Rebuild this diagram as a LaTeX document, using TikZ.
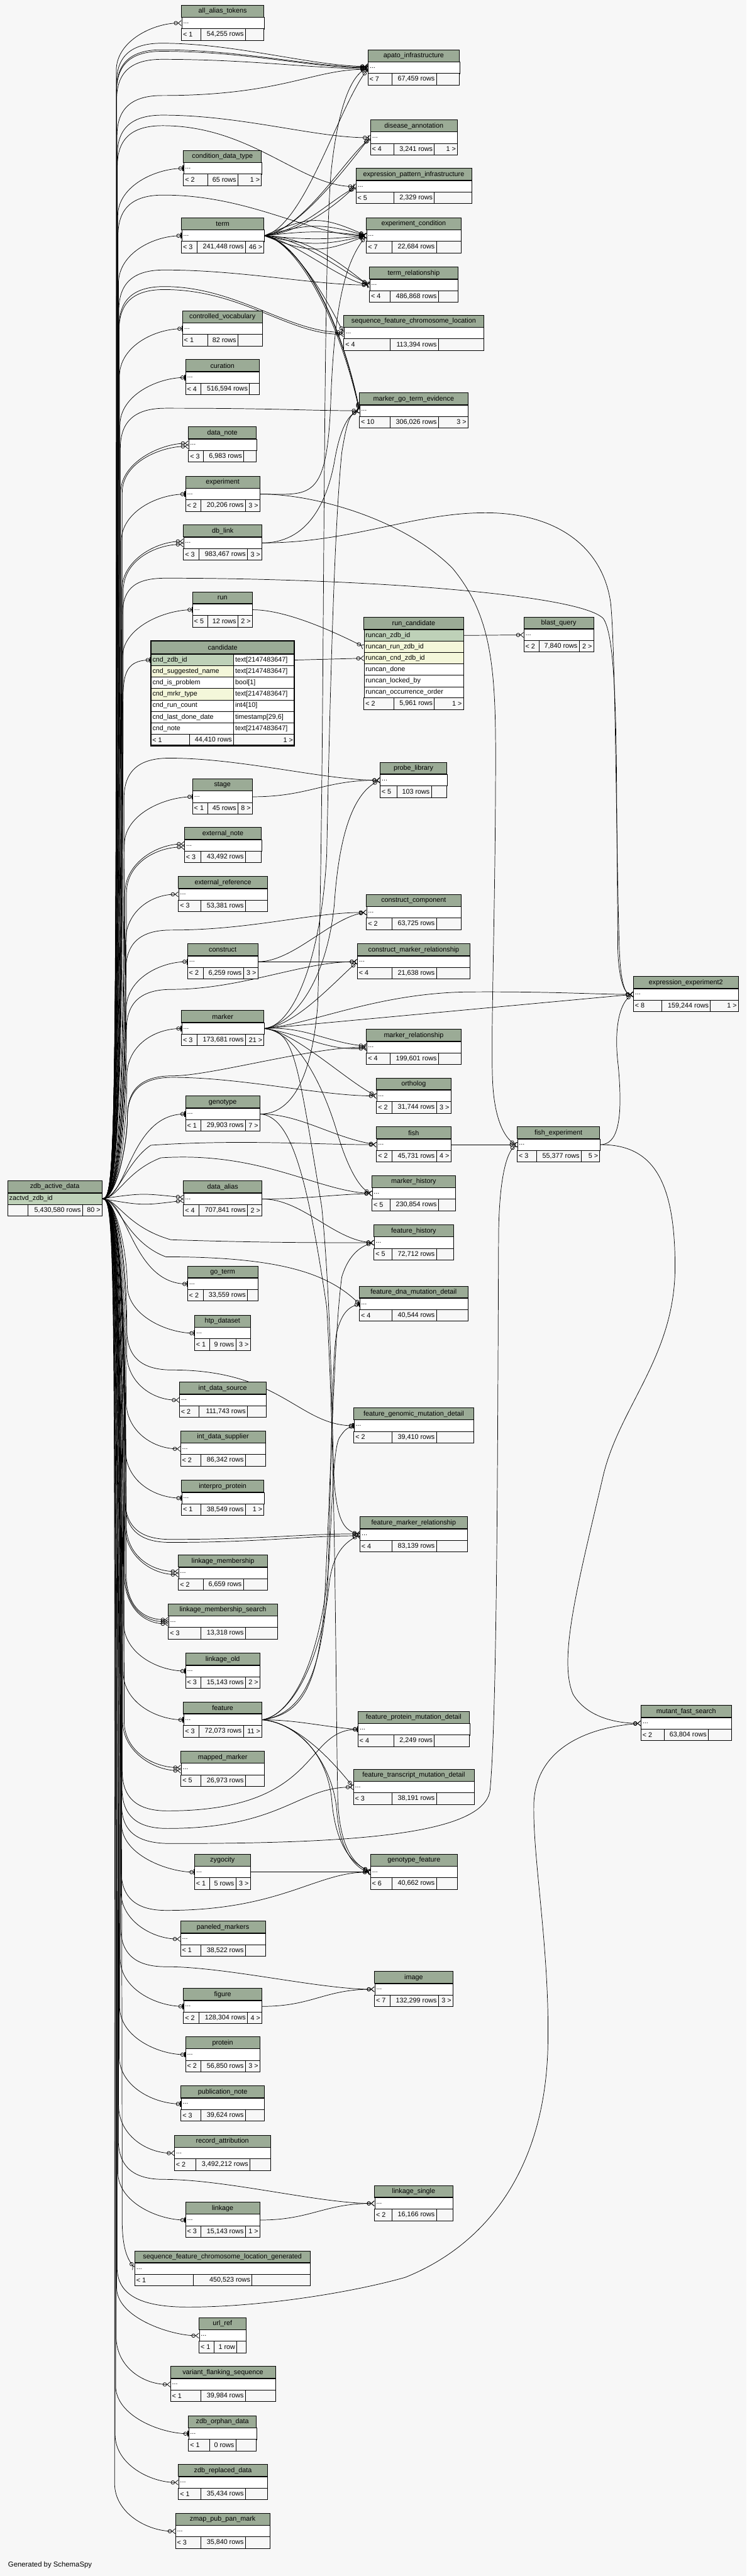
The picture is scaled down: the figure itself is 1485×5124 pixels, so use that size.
\documentclass[tikz,border=0pt]{standalone}
\usepackage{fontspec}
\setmainfont{Liberation Sans}
\usetikzlibrary{arrows.meta}
\definecolor{hdgreen}{HTML}{9BAB96}
\definecolor{keygreen}{HTML}{BED1B8}
\definecolor{idxyellow}{HTML}{F4F7DA}
\definecolor{pagebg}{HTML}{F7F7F7}
\pgfdeclarelayer{back}
\pgfdeclarelayer{wires}
\pgfsetlayers{back,wires,main}
\begin{document}
\begin{tikzpicture}[x=1pt, y=-1pt,
  every node/.style={font=\fontsize{13.5}{16}\selectfont, inner sep=0pt},
  cell/.style={draw, line width=0.8pt},
  bodyrow/.style={draw, line width=0.8pt, fill=white, anchor=north west, minimum height=23pt, inner xsep=3pt, inner ysep=0pt, align=left},
  edge/.style={line width=0.9pt},
  crowodot/.style={-{Circle[open,length=8pt,width=8pt,line width=0.9pt]Straight Barb[reversed,length=6pt,width=10pt,line width=0.9pt]}},
  teeodot/.style={-{Circle[open,length=8pt,width=8pt,line width=0.9pt]Bar[width=11pt,line width=2pt]}}]
  \begin{pgfonlayer}{back}
    \fill[pagebg] (0,0) rectangle (1485,5124);
  \end{pgfonlayer}
  \useasboundingbox (0,0) rectangle (1485,5124);

  % tables with a collapsed body row
  \foreach \nm/\lx/\rx/\ty/\ca/\cb/\fa/\fb/\fc in {
    all_alias_tokens/361/525/10/400/488/{< 1}/{54,255 rows}/{},
    apato_infrastructure/732/914/99/780/868/{< 7}/{67,459 rows}/{},
    disease_annotation/737/910/238/784/864/{< 4}/{3,241 rows}/{1 >},
    condition_data_type/365/520/299/413/473/{< 2}/{65 rows}/{1 >},
    expression_pattern_infrastructure/708/938/335/784/864/{< 5}/{2,329 rows}/{},
    term/361/525/433/392/488/{< 3}/{241,448 rows}/{46 >},
    experiment_condition/729/917/433/780/868/{< 7}/{22,684 rows}/{},
    term_relationship/735/911/531/776/872/{< 4}/{486,868 rows}/{},
    controlled_vocabulary/363/522/618/413/473/{< 1}/{82 rows}/{},
    sequence_feature_chromosome_location/684/962/627/776/872/{< 4}/{113,394 rows}/{},
    curation/369/516/715/400/496/{< 4}/{516,594 rows}/{},
    marker_go_term_evidence/715/931/781/776/872/{< 10}/{306,026 rows}/{3 >},
    data_note/375/510/849/405/485/{< 3}/{6,983 rows}/{},
    experiment/369/517/947/400/488/{< 2}/{20,206 rows}/{3 >},
    db_link/365/521/1044/396/492/{< 3}/{983,467 rows}/{3 >},
    run/383/502/1177/413/473/{< 5}/{12 rows}/{2 >},
    blast_query/1042/1181/1227/1072/1152/{< 2}/{7,840 rows}/{2 >},
    probe_library/756/889/1516/790/858/{< 5}/{103 rows}/{},
    stage/383/502/1549/413/473/{< 1}/{45 rows}/{8 >},
    external_note/367/520/1646/400/488/{< 3}/{43,492 rows}/{},
    external_reference/355/532/1743/400/488/{< 3}/{53,381 rows}/{},
    construct_component/729/917/1779/780/868/{< 2}/{63,725 rows}/{},
    construct/373/513/1877/404/484/{< 2}/{6,259 rows}/{3 >},
    construct_marker_relationship/711/935/1877/780/868/{< 4}/{21,638 rows}/{},
    expression_experiment2/1260/1469/1942/1317/1413/{< 8}/{159,244 rows}/{1 >},
    marker/361/525/2010/392/488/{< 3}/{173,681 rows}/{21 >},
    marker_relationship/729/917/2047/776/872/{< 4}/{199,601 rows}/{},
    ortholog/749/897/2144/780/868/{< 2}/{31,744 rows}/{3 >},
    genotype/369/517/2180/400/488/{< 1}/{29,903 rows}/{7 >},
    fish/749/897/2241/780/868/{< 2}/{45,731 rows}/{4 >},
    fish_experiment/1029/1193/2241/1068/1156/{< 3}/{55,377 rows}/{5 >},
    marker_history/740/906/2338/776/872/{< 5}/{230,854 rows}/{},
    data_alias/365/521/2349/396/492/{< 4}/{707,841 rows}/{2 >},
    feature_history/744/902/2436/780/868/{< 5}/{72,712 rows}/{},
    go_term/373/513/2518/404/492/{< 2}/{33,559 rows}/{},
    feature_dna_mutation_detail/715/931/2558/780/868/{< 4}/{40,544 rows}/{},
    htp_dataset/387/498/2616/417/469/{< 1}/{9 rows}/{3 >},
    int_data_source/357/529/2749/396/492/{< 2}/{111,743 rows}/{},
    feature_genomic_mutation_detail/704/942/2800/780/868/{< 2}/{39,410 rows}/{},
    int_data_supplier/359/528/2846/400/488/{< 2}/{86,342 rows}/{},
    interpro_protein/361/525/2944/400/488/{< 1}/{38,549 rows}/{1 >},
    feature_marker_relationship/716/930/3017/780/868/{< 4}/{83,139 rows}/{},
    linkage_membership/355/532/3093/404/484/{< 2}/{6,659 rows}/{},
    linkage_membership_search/335/552/3190/400/488/{< 3}/{13,318 rows}/{},
    linkage_old/369/517/3288/400/488/{< 3}/{15,143 rows}/{2 >},
    feature/365/521/3385/396/484/{< 3}/{72,073 rows}/{11 >},
    mutant_fast_search/1275/1455/3392/1321/1409/{< 2}/{63,804 rows}/{},
    feature_protein_mutation_detail/712/934/3404/784/864/{< 4}/{2,249 rows}/{},
    mapped_marker/360/526/3483/400/488/{< 5}/{26,973 rows}/{},
    feature_transcript_mutation_detail/703/943/3519/780/868/{< 3}/{38,191 rows}/{},
    zygocity/387/498/3688/417/469/{< 1}/{5 rows}/{3 >},
    genotype_feature/737/910/3688/780/868/{< 6}/{40,662 rows}/{},
    paneled_markers/359/528/3821/400/488/{< 1}/{38,522 rows}/{},
    image/745/901/3921/776/872/{< 7}/{132,299 rows}/{3 >},
    figure/365/521/3955/396/492/{< 2}/{128,304 rows}/{4 >},
    protein/369/517/4051/400/488/{< 2}/{56,850 rows}/{3 >},
    publication_note/360/526/4149/400/488/{< 3}/{39,624 rows}/{},
    record_attribution/347/538/4247/389/497/{< 2}/{3,492,212 rows}/{},
    linkage_single/745/901/4347/780/868/{< 2}/{16,166 rows}/{},
    linkage/369/517/4380/400/488/{< 3}/{15,143 rows}/{1 >},
    sequence_feature_chromosome_location_generated/268/617/4477/385/501/{< 1}/{450,523 rows}/{},
    url_ref/396/489/4610/426/471/{< 1}/{1 row}/{},
    variant_flanking_sequence/339/548/4707/400/488/{< 1}/{39,984 rows}/{},
    zdb_orphan_data/375/510/4805/417/469/{< 1}/{0 rows}/{},
    zdb_replaced_data/355/532/4902/400/488/{< 1}/{35,434 rows}/{},
    zmap_pub_pan_mark/349/537/4999/400/488/{< 3}/{35,840 rows}/{}} {
    \pgfmathsetmacro\tw{\rx-\lx-6}
    \filldraw[cell, fill=hdgreen] (\lx,\ty) rectangle (\rx,{\ty+24});
    \node (\nm-hd) at ({(\lx+\rx)/2},{\ty+12.5}) {\expandafter\detokenize\expandafter{\nm}};
    \node[bodyrow, text width=\tw pt] (\nm) at (\lx,{\ty+24}) {...};
    \draw[line width=1.6pt] (\lx,{\ty+24}) -- (\rx,{\ty+24});
    \filldraw[cell, fill=pagebg] (\lx,{\ty+47}) rectangle (\rx,{\ty+70});
    \draw[cell] (\ca,{\ty+47}) -- (\ca,{\ty+70}) (\cb,{\ty+47}) -- (\cb,{\ty+70});
    \node[anchor=west] (\nm-fa) at ({\lx+3},{\ty+58.5}) {\fa};
    \node[anchor=east] (\nm-fb) at ({\cb-3},{\ty+58.5}) {\fb};
    \node[anchor=east] (\nm-fc) at ({\rx-3},{\ty+58.5}) {\fc};
  }

  % zdb_active_data
  \filldraw[cell, fill=hdgreen] (15,2348) rectangle (203,2372.5);
  \node (zdb_active_data-hd) at (109,2360.5) {zdb\_active\_data};
  \node[bodyrow, fill=keygreen, text width=182pt] (zactvd_zdb_id) at (15,2372.5) {zactvd\_zdb\_id};
  \draw[line width=1.6pt] (15,2372.5) -- (203,2372.5);
  \filldraw[cell, fill=pagebg] (15,2395.5) rectangle (203,2418.5);
  \draw[cell] (56,2395.5) -- (56,2418.5) (164,2395.5) -- (164,2418.5);
  \node[anchor=east] (zdb_active_data-fb) at (161,2407) {5,430,580 rows};
  \node[anchor=east] (zdb_active_data-fc) at (200,2407) {80 >};

  % candidate (the table in focus)
  \filldraw[cell, fill=hdgreen] (300,1275) rectangle (586,1301);
  \node (candidate-hd) at (443,1288) {candidate};
  \foreach \i/\cn/\ct/\cc in {0/cnd_zdb_id/{text[2147483647]}/keygreen,
    1/cnd_suggested_name/{text[2147483647]}/idxyellow, 2/cnd_is_problem/{bool[1]}/white,
    3/cnd_mrkr_type/{text[2147483647]}/idxyellow, 4/cnd_run_count/{int4[10]}/white,
    5/cnd_last_done_date/{timestamp[29,6]}/white, 6/cnd_note/{text[2147483647]}/white} {
    \node[bodyrow, fill=\cc, text width=158.5pt] (\cn) at (300,{1301+\i*22.7}) {\expandafter\detokenize\expandafter{\cn}};
    \node[bodyrow, text width=115.5pt] (\cn-type) at (464.5,{1301+\i*22.7}) {\ct};
  }
  \draw[line width=1.6pt] (300,1301) -- (586,1301);
  \filldraw[cell, fill=pagebg] (300,1460) rectangle (586,1483);
  \draw[cell] (377.3,1460) -- (377.3,1483) (464.5,1460) -- (464.5,1483);
  \node[anchor=west] (candidate-fa) at (303,1471.5) {< 1};
  \node[anchor=east] (candidate-fb) at (461.5,1471.5) {44,410 rows};
  \node[anchor=east] (candidate-fc) at (583,1471.5) {1 >};
  \draw[line width=2.6pt] (300,1275) rectangle (586,1483);

  % run_candidate
  \filldraw[cell, fill=hdgreen] (724,1228) rectangle (922,1252);
  \node (run_candidate-hd) at (823,1240.5) {run\_candidate};
  \foreach \i/\cn/\cc in {0/runcan_zdb_id/keygreen, 1/runcan_run_zdb_id/idxyellow,
    2/runcan_cnd_zdb_id/idxyellow, 3/runcan_done/white, 4/runcan_locked_by/white,
    5/runcan_occurrence_order/white} {
    \node[bodyrow, fill=\cc, text width=192pt] (\cn) at (724,{1252+\i*22.7}) {\expandafter\detokenize\expandafter{\cn}};
  }
  \draw[line width=1.6pt] (724,1252) -- (922,1252);
  \filldraw[cell, fill=pagebg] (724,1388.2) rectangle (922,1411);
  \draw[cell] (784,1388.2) -- (784,1411) (864,1388.2) -- (864,1411);
  \node[anchor=west] (run_candidate-fa) at (727,1399.6) {< 2};
  \node[anchor=east] (run_candidate-fb) at (861,1399.6) {5,961 rows};
  \node[anchor=east] (run_candidate-fc) at (919,1399.6) {1 >};

  \node[anchor=west, font=\fontsize{14.2}{17}\selectfont] (credit) at (16,5102) {Generated by SchemaSpy};

  \begin{pgfonlayer}{wires}
  % zdb_active_data to the tables of the first column
  \foreach \tb/\ty/\sg/\tip/\dx/\dy in {
    all_alias_tokens/45.5/1/crowodot/0/0, condition_data_type/334.5/1/teeodot/0/0,
    term/468.5/1/teeodot/0/0, controlled_vocabulary/653.5/1/teeodot/0/0,
    curation/750.5/1/teeodot/0/0, data_note/884.5/1/crowodot/0/3,
    data_note/884.5/1/crowodot/3/-3, experiment/982.5/1/teeodot/0/0,
    db_link/1079.5/1/crowodot/0/3, db_link/1079.5/1/crowodot/3/-3,
    run/1212.5/1/teeodot/0/0, cnd_zdb_id/1312.5/1/teeodot/0/0,
    stage/1584.5/1/teeodot/0/0, external_note/1681.5/1/crowodot/0/3,
    external_note/1681.5/1/crowodot/3/-3, external_reference/1778.5/1/crowodot/0/0,
    construct/1912.5/1/teeodot/0/0, marker/2045.5/1/teeodot/0/0,
    htp_dataset/2651.5/-1/teeodot/0/0, int_data_source/2784.5/-1/crowodot/0/0,
    int_data_supplier/2881.5/-1/crowodot/0/0, interpro_protein/2979.5/-1/teeodot/0/0,
    linkage_membership/3128.5/-1/crowodot/0/-3, linkage_membership/3128.5/-1/crowodot/3/3,
    linkage_membership_search/3225.5/-1/crowodot/0/-4, linkage_membership_search/3225.5/-1/crowodot/2/0,
    linkage_membership_search/3225.5/-1/crowodot/4/4, linkage_old/3323.5/-1/teeodot/0/0,
    feature/3420.5/-1/teeodot/0/0, mapped_marker/3518.5/-1/crowodot/0/-3,
    mapped_marker/3518.5/-1/crowodot/3/3, zygocity/3723.5/-1/teeodot/0/0,
    paneled_markers/3856.5/-1/crowodot/0/0, figure/3990.5/-1/teeodot/0/0,
    protein/4086.5/-1/teeodot/0/0, publication_note/4184.5/-1/teeodot/0/0,
    record_attribution/4282.5/-1/crowodot/0/0, linkage/4415.5/-1/teeodot/0/0,
    url_ref/4645.5/-1/crowodot/0/0, variant_flanking_sequence/4742.5/-1/crowodot/0/0,
    zdb_orphan_data/4840.5/-1/teeodot/0/0, zdb_replaced_data/4937.5/-1/crowodot/0/0,
    zmap_pub_pan_mark/5034.5/-1/crowodot/0/0} {
    \pgfmathsetmacro\xv{256-abs(\ty-2384)/2650*28+\dx}
    \draw[edge,\tip] (zactvd_zdb_id.east) .. controls +(28,0) and ({\xv},{2384-(\sg)*110}) .. ({\xv},{\ty+(\sg)*95})
      .. controls ({\xv},{\ty+(\sg)*35}) and +(-55,0) .. ([yshift=\dy pt]\tb.west);
  }
  \draw[edge,teeodot] (zactvd_zdb_id.east) .. controls +(50,0) and +(-110,0) .. (genotype.west);
  \draw[edge,teeodot] (zactvd_zdb_id.east) .. controls +(50,0) and +(-110,0) .. (go_term.west);
  \draw[edge,crowodot] (zactvd_zdb_id.east) .. controls +(80,-12) and +(-80,-8) .. ([yshift=3pt]data_alias.west);
  \draw[edge,crowodot] (zactvd_zdb_id.east) .. controls +(80,14) and +(-80,10) .. ([yshift=-3pt]data_alias.west);
  \draw[edge,crowodot] (zactvd_zdb_id.east) .. controls +(28,0) and (242,2494) .. (243,4420)
    .. controls (244,4480) and +(-12,-18) .. (sequence_feature_chromosome_location_generated.west);

  % zdb_active_data over to the second column, above
  \foreach \tb/\yp/\xp/\dy in {apato_infrastructure/86/470/3, apato_infrastructure/99/480/1.5,
    apato_infrastructure/102/490/0, apato_infrastructure/118/500/-1.5, apato_infrastructure/190/560/-3,
    disease_annotation/229/480/0, expression_pattern_infrastructure/250/500/0,
    experiment_condition/388/500/0, term_relationship/537/480/0,
    sequence_feature_chromosome_location/570/470/2, sequence_feature_chromosome_location/576/480/-2,
    marker_go_term_evidence/812/560/0, probe_library/1508/480/0,
    construct_component/1850/500/0, construct_marker_relationship/1968/480/0,
    ortholog/2143/480/0, marker_relationship/2140/420/0} {
    \pgfmathsetmacro\xv{256-abs(\yp-2384)/2650*28}
    \draw[edge,crowodot] (zactvd_zdb_id.east) .. controls +(28,0) and ({\xv},2274) .. ({\xv},{\yp+80})
      .. controls ({\xv},{\yp+25}) and ({\xv+30},\yp) .. ({\xv+90},\yp)
      .. controls (\xp,\yp) and +(-110,0) .. ([yshift=\dy pt]\tb.west);
  }
  % zdb_active_data over to the second column, below
  \foreach \tb/\yp/\xp/\dy/\tip in {feature_genomic_mutation_detail/2725/560/0/teeodot,
    feature_marker_relationship/3062/520/2/crowodot, feature_marker_relationship/3068/520/-2/crowodot,
    feature_protein_mutation_detail/3602/640/0/teeodot, feature_transcript_mutation_detail/3637/560/0/crowodot,
    genotype_feature/3800/560/0/crowodot, image/3912/450/0/crowodot, linkage_single/4335/450/0/crowodot} {
    \pgfmathsetmacro\xv{256-abs(\yp-2384)/2650*28}
    \draw[edge,\tip] (zactvd_zdb_id.east) .. controls +(28,0) and ({\xv},2494) .. ({\xv},{\yp-80})
      .. controls ({\xv},{\yp-25}) and ({\xv+30},\yp) .. ({\xv+90},\yp)
      .. controls (\xp,\yp) and +(-110,0) .. ([yshift=\dy pt]\tb.west);
  }
  \draw[edge,crowodot] (zactvd_zdb_id.east) .. controls +(30,0) and (252,2310) .. (300,2278)
    .. controls (480,2266) and +(-120,0) .. (fish.west);
  \draw[edge,crowodot] (zactvd_zdb_id.east) .. controls +(30,0) and (250,2330) .. (320,2303)
    .. controls (520,2290) and +(-110,-5) .. (marker_history.west);
  \draw[edge,crowodot] (zactvd_zdb_id.east) .. controls +(30,0) and (250,2440) .. (340,2466)
    .. controls (520,2472) and +(-110,0) .. (feature_history.west);
  \draw[edge,teeodot] (zactvd_zdb_id.east) .. controls +(30,0) and (250,2470) .. (330,2500)
    .. controls (560,2500) and +(-60,-60) .. (feature_dna_mutation_detail.west);
  \draw[edge,crowodot] (zactvd_zdb_id.east) .. controls +(28,0) and (243,2274) .. (243,1230)
    .. controls (243,1175) and (262,1150) .. (330,1150) .. controls (700,1150) and (1150,1180) .. (1200,1230)
    .. controls (1222,1260) and (1226,1400) .. (1227,1600) .. controls (1228,1750) and (1229,1820) .. (1229,1880)
    .. controls (1230,1955) and +(-15,0) .. (expression_experiment2.west);
  \draw[edge,crowodot] (zactvd_zdb_id.east) .. controls +(28,0) and (242,2494) .. (242,3590)
    .. controls (242,3645) and (275,3667) .. (340,3667) .. controls (700,3667) and (965,3650) .. (975,3560)
    .. controls (990,3400) and (990,2800) .. (992,2450) .. controls (994,2320) and +(-15,10) .. (fish_experiment.west);
  \draw[edge,crowodot] (zactvd_zdb_id.east) .. controls +(28,0) and (233,2494) .. (233,4510)
    .. controls (233,4565) and (280,4589) .. (374,4589) .. controls (520,4589) and (700,4560) .. (806,4530)
    .. controls (980,4460) and (1085,4300) .. (1090,4070) .. controls (1094,3880) and (1060,3700) .. (1062,3590)
    .. controls (1064,3480) and +(-110,8) .. (mutant_fast_search.west);

  % term
  \foreach \tb/\ax/\ay/\bx/\by/\dy in {apato_infrastructure/80/-20/-60/80/-2,
    disease_annotation/70/-10/-40/50/2, disease_annotation/80/-15/-50/40/-1,
    expression_pattern_infrastructure/70/-5/-40/40/2, expression_pattern_infrastructure/75/-10/-55/30/-1,
    experiment_condition/90/-40/-90/-40/0, experiment_condition/90/-25/-90/-25/0,
    experiment_condition/90/-10/-90/-10/0, experiment_condition/90/8/-90/8/0,
    experiment_condition/90/20/-90/20/0, experiment_condition/90/35/-90/35/0,
    term_relationship/80/5/-50/-20/2, term_relationship/60/10/-60/-10/0, term_relationship/90/0/-40/-30/-2,
    sequence_feature_chromosome_location/60/10/-30/-60/0,
    marker_go_term_evidence/60/5/-40/-200/2, marker_go_term_evidence/50/5/-50/-220/0,
    marker_go_term_evidence/70/10/-35/-180/-2} {
    \draw[edge,crowodot] (term.east) .. controls +(\ax,\ay) and +(\bx,\by) .. ([yshift=\dy pt]\tb.west);
  }

  % experiment, db_link, run, candidate, stage
  \draw[edge,crowodot] (experiment.east) .. controls +(100,0) and (650,1000) .. (658,800)
    .. controls (665,600) and +(-40,50) .. (experiment_condition.west);
  \draw[edge,crowodot] (experiment.east) .. controls (620,982) and (800,1030) .. (900,1130)
    .. controls (975,1220) and (986,1320) .. (986,1500) .. controls (986,1800) and (976,2050) .. (980,2150)
    .. controls (984,2240) and +(-18,-8) .. (fish_experiment.west);
  \draw[edge,crowodot] (db_link.east) .. controls +(90,0) and (650,1000) .. (665,920)
    .. controls (675,860) and +(-25,10) .. (marker_go_term_evidence.west);
  \draw[edge,crowodot] (db_link.east) .. controls (700,1080) and (820,1020) .. (966,1020)
    .. controls (1110,1020) and (1200,1090) .. (1215,1200) .. controls (1225,1300) and (1226,1700) .. (1232,1880)
    .. controls (1234,1960) and +(-15,0) .. (expression_experiment2.west);
  \draw[edge,crowodot] (run.east) .. controls +(70,0) and +(-50,-25) .. (runcan_run_zdb_id.west);
  \draw[edge,crowodot] (cnd_zdb_id-type.east) -- (runcan_cnd_zdb_id.west);
  \draw[edge,crowodot] (runcan_zdb_id.east) -- (blast_query.west);
  \draw[edge,crowodot] (stage.east) .. controls +(110,0) and +(-110,0) .. (probe_library.west);

  % construct, marker
  \draw[edge,crowodot] (construct.east) .. controls +(70,0) and +(-70,10) .. (construct_component.west);
  \draw[edge,crowodot] (construct.east) -- (construct_marker_relationship.west);
  \draw[edge,crowodot] (marker.east) .. controls +(60,-5) and +(-50,45) .. (construct_marker_relationship.west);
  \draw[edge,crowodot] (marker.east) .. controls +(80,-5) and +(-80,-8) .. ([yshift=2pt]marker_relationship.west);
  \draw[edge,crowodot] (marker.east) .. controls +(80,12) and +(-80,6) .. ([yshift=-2pt]marker_relationship.west);
  \draw[edge,crowodot] (marker.east) .. controls +(60,5) and +(-60,-30) .. (ortholog.west);
  \draw[edge,crowodot] (marker.east) .. controls +(60,5) and (640,2150) .. (670,2250)
    .. controls (690,2320) and +(-25,-10) .. (marker_history.west);
  \draw[edge,crowodot] (marker.east) .. controls +(100,-10) and (750,1975) .. (934,1973)
    .. controls (1100,1972) and +(-80,0) .. (expression_experiment2.west);
  \draw[edge,crowodot] (marker.east) -- (expression_experiment2.west);
  \draw[edge,crowodot] (marker.east) .. controls +(60,-10) and (650,1950) .. (665,1800)
    .. controls (675,1650) and +(-50,25) .. (probe_library.west);
  \draw[edge,crowodot] (marker.east) .. controls +(60,-5) and (640,1900) .. (650,1700)
    .. controls (660,1200) and (670,1000) .. (680,900) .. controls (690,840) and +(-20,8) .. (marker_go_term_evidence.west);
  \draw[edge,crowodot] (marker.east) .. controls +(60,5) and (590,2100) .. (640,2400)
    .. controls (660,2600) and (660,2850) .. (665,2950) .. controls (672,3030) and +(-30,-10) .. (feature_marker_relationship.west);

  % genotype, fish, fish_experiment, data_alias
  \draw[edge,crowodot] (genotype.east) .. controls +(60,0) and (620,2150) .. (632,2000)
    .. controls (648,1500) and (640,500) .. (660,330) .. controls (675,200) and +(-30,15) .. (apato_infrastructure.west);
  \draw[edge,crowodot] (genotype.east) .. controls +(80,0) and +(-90,-15) .. (fish.west);
  \draw[edge,crowodot] (genotype.east) .. controls +(60,5) and (610,2330) .. (650,2600)
    .. controls (668,2900) and (668,3400) .. (672,3580) .. controls (676,3680) and +(-30,-15) .. (genotype_feature.west);
  \draw[edge,crowodot] (fish.east) -- (fish_experiment.west);
  \draw[edge,crowodot] (fish_experiment.east) .. controls +(35,0) and (1240,2230) .. (1230,2120)
    .. controls (1220,2040) and +(-25,15) .. (expression_experiment2.west);
  \draw[edge,crowodot] (fish_experiment.east) .. controls (1300,2276) and (1343,2350) .. (1343,2520)
    .. controls (1343,2700) and (1230,2800) .. (1199,2940) .. controls (1150,3150) and (1110,3300) .. (1140,3370)
    .. controls (1170,3420) and +(-40,0) .. (mutant_fast_search.west);
  \draw[edge,crowodot] (data_alias.east) .. controls +(90,0) and +(-90,3) .. (marker_history.west);
  \draw[edge,crowodot] (data_alias.east) .. controls +(80,0) and +(-80,-5) .. (feature_history.west);

  % feature
  \draw[edge,crowodot] (feature.east) .. controls +(70,-10) and (630,3370) .. (645,3200)
    .. controls (660,2900) and (665,2650) .. (680,2540) .. controls (695,2490) and +(-20,5) .. (feature_history.west);
  \draw[edge,teeodot] (feature.east) .. controls +(70,-10) and (640,3350) .. (652,3150)
    .. controls (660,2900) and (660,2700) .. (670,2650) .. controls (680,2610) and +(-20,5) .. (feature_dna_mutation_detail.west);
  \draw[edge,teeodot] (feature.east) .. controls +(60,-10) and (640,3300) .. (655,3100)
    .. controls (662,2950) and (665,2880) .. (675,2860) .. controls (685,2845) and +(-15,5) .. (feature_genomic_mutation_detail.west);
  \draw[edge,crowodot] (feature.east) .. controls +(60,-10) and (640,3300) .. (655,3150)
    .. controls (662,3090) and +(-30,15) .. (feature_marker_relationship.west);
  \draw[edge,teeodot] (feature.east) .. controls +(70,0) and +(-70,-5) .. (feature_protein_mutation_detail.west);
  \draw[edge,crowodot] (feature.east) .. controls +(70,5) and +(-40,-50) .. (feature_transcript_mutation_detail.west);
  \draw[edge,crowodot] (feature.east) .. controls +(60,5) and (650,3480) .. (660,3580)
    .. controls (668,3680) and +(-30,-12) .. ([yshift=2pt]genotype_feature.west);
  \draw[edge,crowodot] (feature.east) .. controls +(70,5) and (660,3500) .. (670,3600)
    .. controls (676,3690) and +(-25,-8) .. ([yshift=-1pt]genotype_feature.west);

  % zygocity, figure, linkage
  \draw[edge,crowodot] (zygocity.east) -- (genotype_feature.west);
  \draw[edge,crowodot] (figure.east) .. controls +(100,0) and +(-100,0) .. (image.west);
  \draw[edge,crowodot] (linkage.east) .. controls +(100,0) and +(-100,0) .. (linkage_single.west);
  \end{pgfonlayer}
\end{tikzpicture}
\end{document}
